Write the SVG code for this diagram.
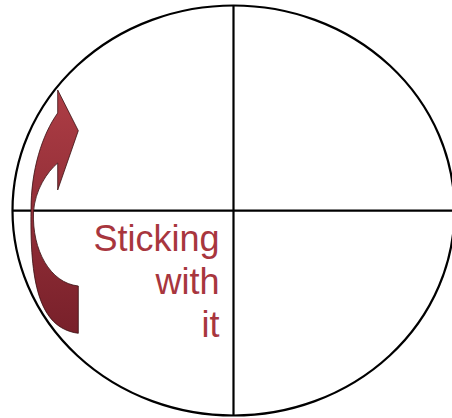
<svg xmlns="http://www.w3.org/2000/svg" width="452" height="418" viewBox="0 0 452 418">
<defs>
<linearGradient id="g" x1="0" y1="0" x2="0" y2="1">
<stop offset="0" stop-color="#ad3d45"/>
<stop offset="1" stop-color="#78202a"/>
</linearGradient>
<style>
.ln{stroke:#000;stroke-width:2.2;fill:none}
.lbl{font-family:"Liberation Sans",Arial,sans-serif;font-size:36px;fill:#a8363e;text-anchor:end}
</style>
</defs>
<rect width="452" height="418" fill="#fff"/>
<g id="connectors">
<ellipse class="ln" cx="233.5" cy="210.5" rx="221" ry="205"/>
<line class="ln" x1="233.5" y1="5.5" x2="233.5" y2="415.5"/>
<line class="ln" x1="12.5" y1="210.7" x2="452" y2="210.7"/>
</g>
<g id="arrow">
<path d="M57.7 90 L78.3 130.7 L57.7 190 L57.7 163 C47 172 35 190 33.5 212 C32 250 50 283 78.3 286 L78.3 333.3 C38 328 30 280 31 210 C31 170 42 135 57.7 113 Z" fill="url(#g)" stroke="#3a1013" stroke-width="0.8"/>
</g>
<g id="label">
<text class="lbl" x="219.5" y="250.5">Sticking</text>
<text class="lbl" x="219.5" y="294">with</text>
<text class="lbl" x="219.5" y="337">it</text>
</g>
</svg>
